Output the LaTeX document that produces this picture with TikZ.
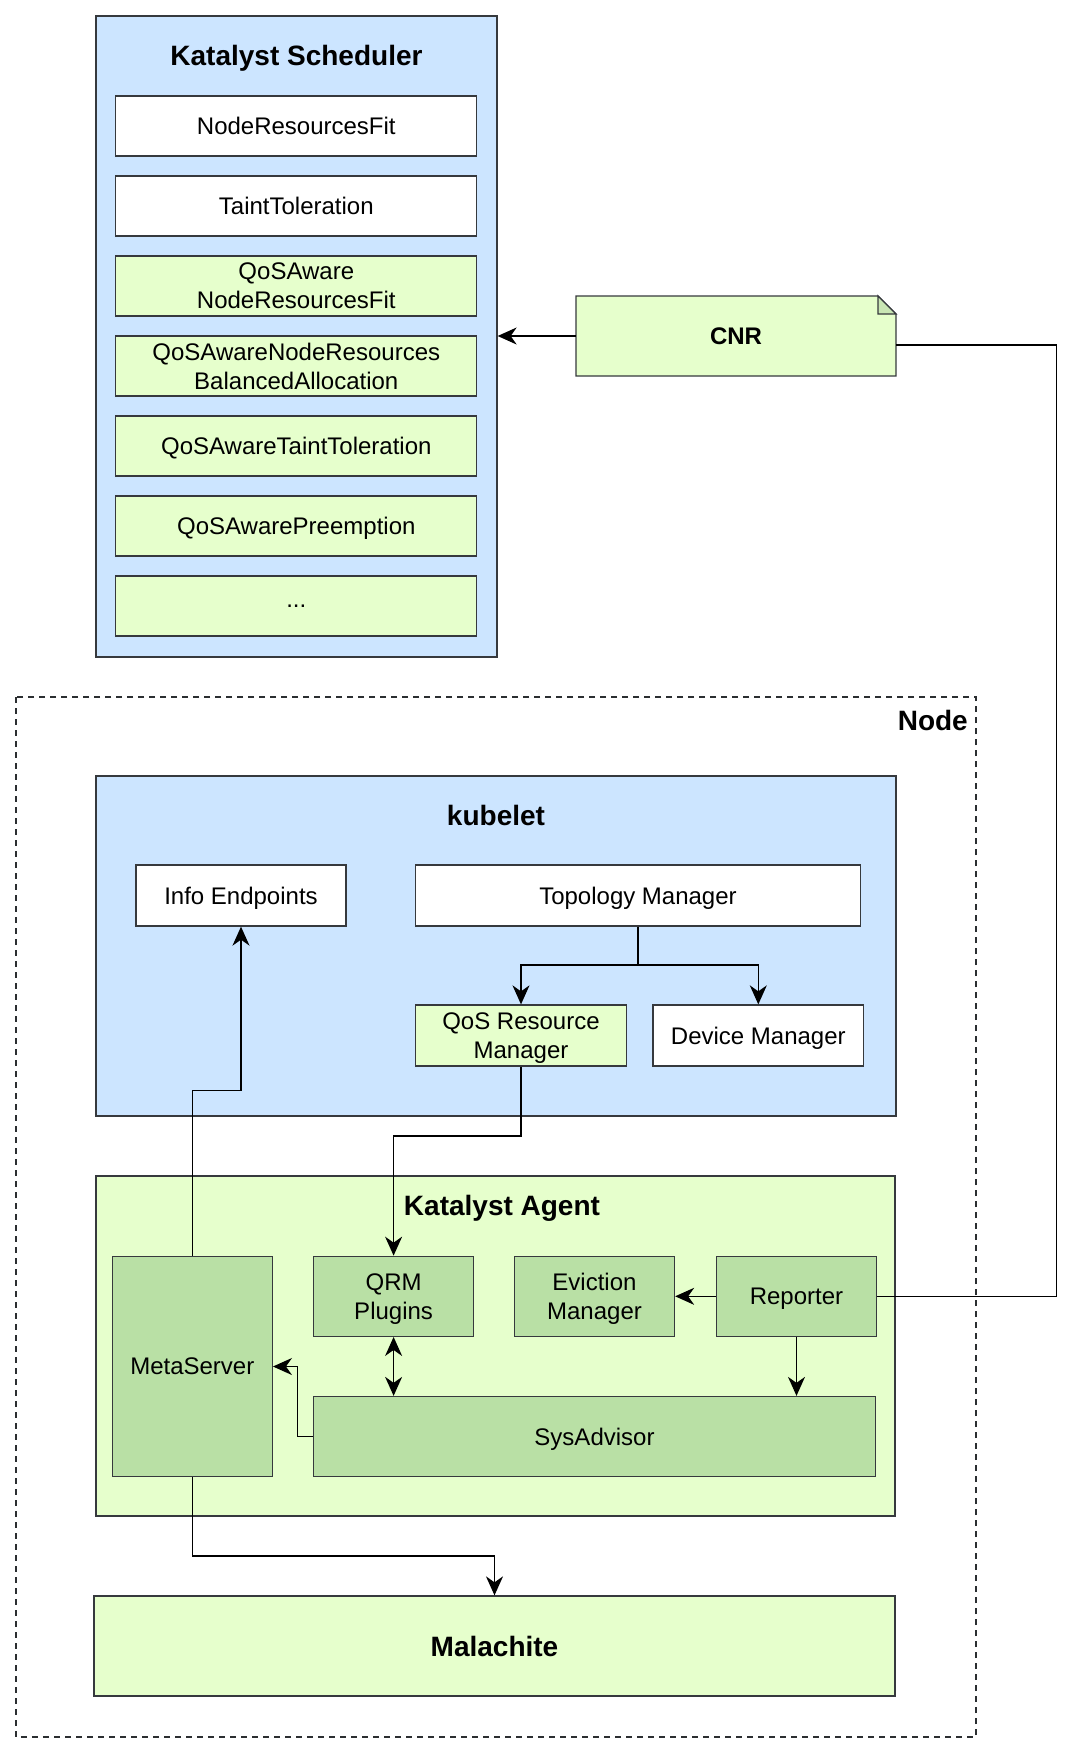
\documentclass[tikz,border=0pt]{standalone}
\usepackage{fontspec}
\setmainfont{Liberation Sans}
\usetikzlibrary{arrows.meta}
\definecolor{bluefill}{HTML}{CCE5FF}
\definecolor{lgreen}{HTML}{E6FFCC}
\definecolor{dgreen}{HTML}{B9E0A5}
\definecolor{foldgreen}{HTML}{C9E6B4}
\definecolor{edgegray}{HTML}{36393D}
\begin{document}
\begin{tikzpicture}[x=1pt,y=-1pt,
  box/.style={draw=edgegray,line width=1.3pt,inner sep=0pt,align=center,text depth=0pt,
    font=\fontsize{24}{29}\selectfont},
  whitebox/.style={box,fill=white},
  lgbox/.style={box,fill=lgreen},
  dgbox/.style={box,fill=dgreen},
  container/.style={draw=edgegray,line width=1.3pt,inner sep=0pt},
  titletext/.style={font=\bfseries\fontsize{28}{34}\selectfont,inner sep=0pt,text depth=0pt},
  conn/.style={line width=1.4pt,black},
  arr/.style={conn,-{Stealth[length=19pt,width=17pt,inset=6pt]}},
  arrboth/.style={conn,{Stealth[length=19pt,width=17pt,inset=6pt]}-{Stealth[length=19pt,width=17pt,inset=6pt]}}
]
\useasboundingbox (0,0) rectangle (1090,1754);
\fill[white] (0,0) rectangle (1090,1754);

% Katalyst Scheduler
\node[container,fill=bluefill,minimum width=401pt,minimum height=641pt] (sched) at (296.5,336.5) {};
\node[titletext] (schedtitle) at (296.5,55) {Katalyst Scheduler};
\node[whitebox,minimum width=361pt,minimum height=60pt] (nrf) at (296.3,126) {NodeResourcesFit};
\node[whitebox,minimum width=361pt,minimum height=60pt] (tt) at (296.3,206) {TaintToleration};
\node[lgbox,minimum width=361pt,minimum height=60pt] (qnrf) at (296.3,286) {QoSAware\\NodeResourcesFit};
\node[lgbox,minimum width=361pt,minimum height=60pt] (qnrba) at (296.3,366) {QoSAwareNodeResources\\BalancedAllocation};
\node[lgbox,minimum width=361pt,minimum height=60pt] (qtt) at (296.3,446) {QoSAwareTaintToleration};
\node[lgbox,minimum width=361pt,minimum height=60pt] (qpre) at (296.3,526) {QoSAwarePreemption};
\node[lgbox,minimum width=361pt,minimum height=60pt] (more) at (296.3,606) {...};

% CNR note
\node[minimum width=320pt,minimum height=80pt,inner sep=0pt] (cnr) at (736,336) {};
\filldraw[draw=edgegray,fill=lgreen,line width=1.3pt]
  (576,296) -- (878,296) -- (896,314) -- (896,376) -- (576,376) -- cycle;
\filldraw[draw=edgegray,fill=foldgreen,line width=1.3pt]
  (878,296) -- (878,314) -- (896,314) -- cycle;
\node[font=\bfseries\fontsize{24}{29}\selectfont,text depth=0pt] (cnrtext) at (cnr.center) {CNR};

% Node dashed region
\draw[edgegray!80!black,line width=1.3pt,dash pattern=on 6pt off 5pt] (16,697) rectangle (976,1737);
\node[titletext,anchor=east] (nodetitle) at (968,720) {Node};

% kubelet
\node[container,fill=bluefill,minimum width=800pt,minimum height=340pt] (kubelet) at (496,946) {};
\node[titletext] (kubetitle) at (496,815.5) {kubelet};
\node[whitebox,minimum width=210pt,minimum height=61pt] (info) at (241,895.5) {Info Endpoints};
\node[whitebox,minimum width=445pt,minimum height=61pt] (topo) at (638,895.5) {Topology Manager};
\node[lgbox,minimum width=210.5pt,minimum height=61pt] (qosrm) at (521,1035.5) {QoS Resource\\Manager};
\node[whitebox,minimum width=210.5pt,minimum height=61pt] (devm) at (758.3,1035.5) {Device Manager};

% Katalyst Agent
\node[container,fill=lgreen,minimum width=799pt,minimum height=340pt] (agent) at (495.5,1346) {};
\node[titletext] (agenttitle) at (502,1205) {Katalyst Agent};
\node[dgbox,minimum width=160pt,minimum height=220pt] (meta) at (192.3,1366.5) {MetaServer};
\node[dgbox,minimum width=160pt,minimum height=80pt] (qrm) at (393.6,1296.3) {QRM\\Plugins};
\node[dgbox,minimum width=160pt,minimum height=80pt] (evict) at (594.5,1296.3) {Eviction\\Manager};
\node[dgbox,minimum width=160pt,minimum height=80pt] (reporter) at (796.5,1296.3) {Reporter};
\node[dgbox,minimum width=562pt,minimum height=80pt] (sys) at (594.5,1436.5) {SysAdvisor};

% Malachite
\node[lgbox,minimum width=801pt,minimum height=100pt,font=\bfseries\fontsize{28}{34}\selectfont] (mal) at (494.5,1646) {Malachite};

% connectors
\draw[arr] (cnr.west) -- (cnr.west -| sched.east);
\coordinate (cnrout) at (896,345);
\coordinate (rbend) at (1056.5,345);
\draw[conn] (reporter.east) -| (rbend) -- (cnrout);

\coordinate (tsplit) at (638,965);
\draw[conn] (topo.south) -- (tsplit);
\draw[arr] (tsplit) -| (qosrm.north);
\draw[arr] (tsplit) -| (devm.north);

\coordinate (mup) at (192.3,1090.7);
\draw[arr] (meta.north) -- (mup) -| (info.south);

\coordinate (qdown) at (521,1136);
\draw[arr] (qosrm.south) -- (qdown) -| (qrm.north);

\draw[arrboth] (qrm.south) -- (qrm.south |- sys.north);
\draw[arr] (reporter.west) -- (evict.east);
\draw[arr] (reporter.south) -- (reporter.south |- sys.north);

\coordinate (sleft) at (297.6,1436.5);
\draw[arr] (sys.west) -- (sleft) |- (meta.east);

\coordinate (mdown) at (192.3,1556);
\draw[arr] (meta.south) -- (mdown) -| (mal.north);
\end{tikzpicture}
\end{document}
